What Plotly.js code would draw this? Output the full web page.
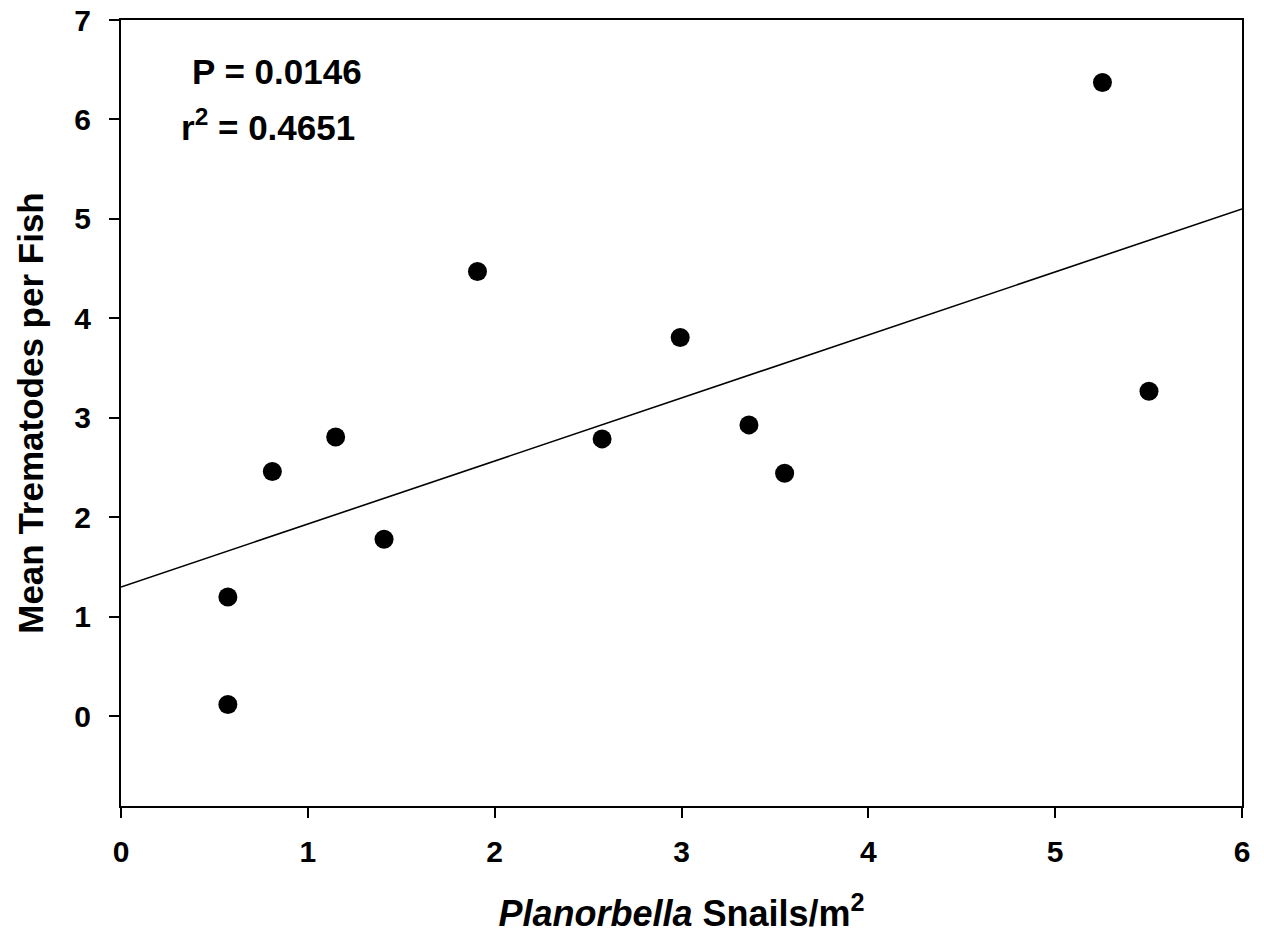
<!DOCTYPE html>
<html>
<head>
<meta charset="utf-8">
<script src="https://cdn.plot.ly/plotly-3.0.1.min.js"></script>
<style>html,body{margin:0;padding:0;background:#fff;}#chart{width:1264px;height:948px;}</style>
</head>
<body>
<div id="chart"></div>
<script>
// Planorbella snail density (snails/m^2)
const snails = [0.572, 0.572, 0.81, 1.149, 1.408, 1.908, 2.575, 2.993, 3.361, 3.552, 5.253, 5.502];
// Mean trematodes per fish
const trematodes = [1.197, 0.115, 2.46, 2.807, 1.778, 4.47, 2.787, 3.807, 2.928, 2.442, 6.372, 3.267];
// Regression line endpoints
const fitX = [0, 6];
const fitY = [1.297, 5.10];
const xTicks = [0, 1, 2, 3, 4, 5, 6];
const yTicks = [0, 1, 2, 3, 4, 5, 6, 7];
const statP = "P = 0.0146";
const statR2 = "r<sup>2</sup> = 0.4651";

const FONT = "'Liberation Sans', Arial, Helvetica, sans-serif";

const traces = [
  {x: fitX, y: fitY, mode: 'lines', line: {color: '#000', width: 1.6}, hoverinfo: 'skip', showlegend: false},
  {x: snails, y: trematodes, mode: 'markers', marker: {color: '#000', size: 19}, showlegend: false}
];

const axisCommon = {
  showgrid: false, zeroline: false, showline: true, linecolor: '#000', linewidth: 2,
  mirror: true, ticks: 'outside', ticklen: 10, tickwidth: 2, tickcolor: '#000',
  tickfont: {family: FONT, size: 30, color: '#000', weight: 'bold'}
};

const layout = {
  width: 1264, height: 948,
  margin: {l: 121, r: 22, t: 20, b: 142},
  paper_bgcolor: '#fff', plot_bgcolor: '#fff',
  showlegend: false,
  xaxis: Object.assign({}, axisCommon, {
    range: [0, 6], tickvals: xTicks, ticktext: xTicks.map(String), ticklabelstandoff: 8,
    title: {text: '<i>Planorbella</i> Snails/m<sup>2</sup>', font: {family: FONT, size: 36, color: '#000', weight: 'bold'}, standoff: 34}
  }),
  yaxis: Object.assign({}, axisCommon, {
    range: [-0.905, 7], tickvals: yTicks, ticktext: yTicks.map(String), ticklabelstandoff: 12,
    title: {text: 'Mean Trematodes per Fish', font: {family: FONT, size: 35, color: '#000', weight: 'bold'}, standoff: 20}
  }),
  annotations: [
    {xref: 'paper', yref: 'paper', x: 0.139, y: 0.934, xanchor: 'center', yanchor: 'middle', showarrow: false,
     text: statP, font: {family: FONT, size: 35, color: '#000', weight: 'bold'}},
    {xref: 'paper', yref: 'paper', x: 0.131, y: 0.866, xanchor: 'center', yanchor: 'middle', showarrow: false,
     text: statR2, font: {family: FONT, size: 35, color: '#000', weight: 'bold'}}
  ]
};

Plotly.newPlot('chart', traces, layout, {displayModeBar: false, staticPlot: true});
</script>
</body>
</html>
